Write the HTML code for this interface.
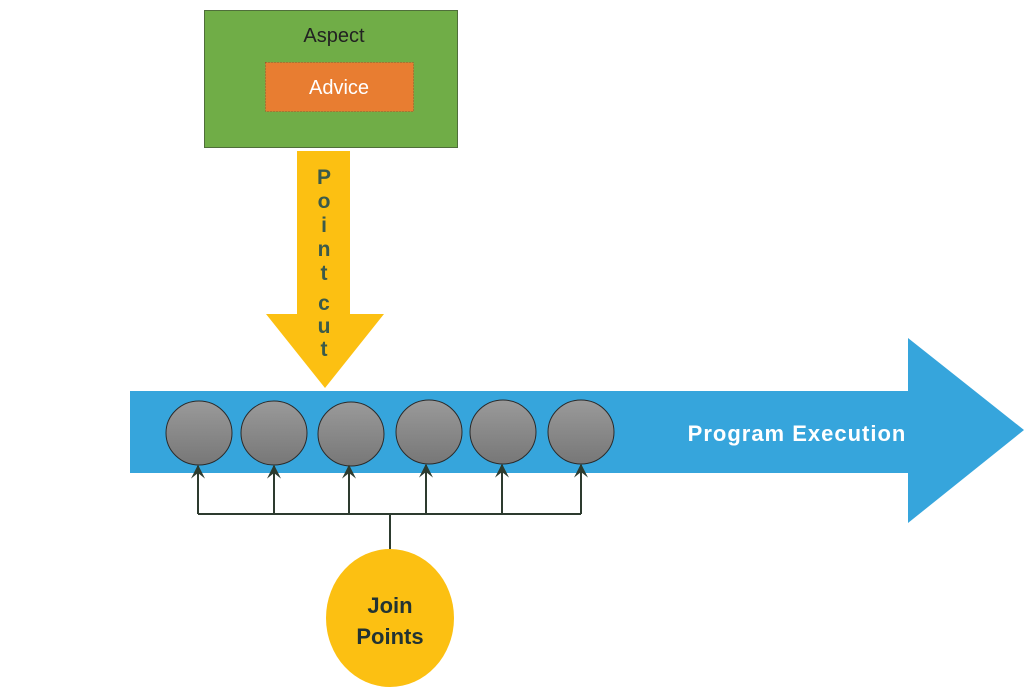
<!DOCTYPE html>
<html><head><style>body{margin:0;background:#fff}</style></head><body>
<svg width="1033" height="694" xmlns="http://www.w3.org/2000/svg" style="display:block">
<defs>
<linearGradient id="g" x1="0" y1="0" x2="0" y2="1"><stop offset="0" stop-color="#9a9a9a"/><stop offset="1" stop-color="#777"/></linearGradient>
<marker id="a" viewBox="0 0 10 10" refX="9" refY="5" markerWidth="7" markerHeight="7" orient="auto"><path d="M0,0 L10,5 L0,10 L4,5 z" fill="#2d3b2f"/></marker>
</defs>
<rect x="204.5" y="10.5" width="253" height="137" fill="#70ad47" stroke="#4f6e3a"/>
<text x="334" y="42" font-family="Liberation Sans, sans-serif" font-size="20" fill="#222" text-anchor="middle">Aspect</text>
<rect x="265.5" y="62.5" width="148" height="49" fill="#e87d31" stroke="#a0522d" stroke-dasharray="1 2"/>
<text x="339" y="94" font-family="Liberation Sans, sans-serif" font-size="20" fill="#fff" text-anchor="middle">Advice</text>
<polygon points="297,151 350,151 350,314 384,314 325,388 266,314 297,314" fill="#fcc012"/>
<g font-family="Liberation Sans, sans-serif" font-size="21" font-weight="bold" fill="#3b5a4a" text-anchor="middle">
<text x="324" y="184">P</text><text x="324" y="208">o</text><text x="324" y="232">i</text><text x="324" y="256">n</text><text x="324" y="280">t</text><text x="324" y="310">c</text><text x="324" y="333">u</text><text x="324" y="356">t</text>
</g>
<polygon points="130,391 908,391 908,338 1024,430 908,523 908,473 130,473" fill="#36a5dc"/>
<text x="797" y="441" font-family="Liberation Sans, sans-serif" font-size="22" font-weight="bold" fill="#fff" text-anchor="middle" letter-spacing="1">Program Execution</text>
<g fill="url(#g)" stroke="#2a2a2a" stroke-width="1">
<ellipse cx="199" cy="433" rx="33" ry="32"/><ellipse cx="274" cy="433" rx="33" ry="32"/><ellipse cx="351" cy="434" rx="33" ry="32"/><ellipse cx="429" cy="432" rx="33" ry="32"/><ellipse cx="503" cy="432" rx="33" ry="32"/><ellipse cx="581" cy="432" rx="33" ry="32"/>
</g>
<g stroke="#2d3b2f" stroke-width="2" fill="none">
<path d="M198,514 H581 M390,514 V549"/>
<line x1="198" y1="514" x2="198" y2="466" marker-end="url(#a)"/>
<line x1="274" y1="514" x2="274" y2="466" marker-end="url(#a)"/>
<line x1="349" y1="514" x2="349" y2="466" marker-end="url(#a)"/>
<line x1="426" y1="514" x2="426" y2="465" marker-end="url(#a)"/>
<line x1="502" y1="514" x2="502" y2="465" marker-end="url(#a)"/>
<line x1="581" y1="514" x2="581" y2="465" marker-end="url(#a)"/>
</g>
<ellipse cx="390" cy="618" rx="64" ry="69" fill="#fcc012"/>
<text x="390" y="613" font-family="Liberation Sans, sans-serif" font-size="22" font-weight="bold" fill="#233" text-anchor="middle">Join</text>
<text x="390" y="644" font-family="Liberation Sans, sans-serif" font-size="22" font-weight="bold" fill="#233" text-anchor="middle">Points</text>
</svg>
</body></html>
